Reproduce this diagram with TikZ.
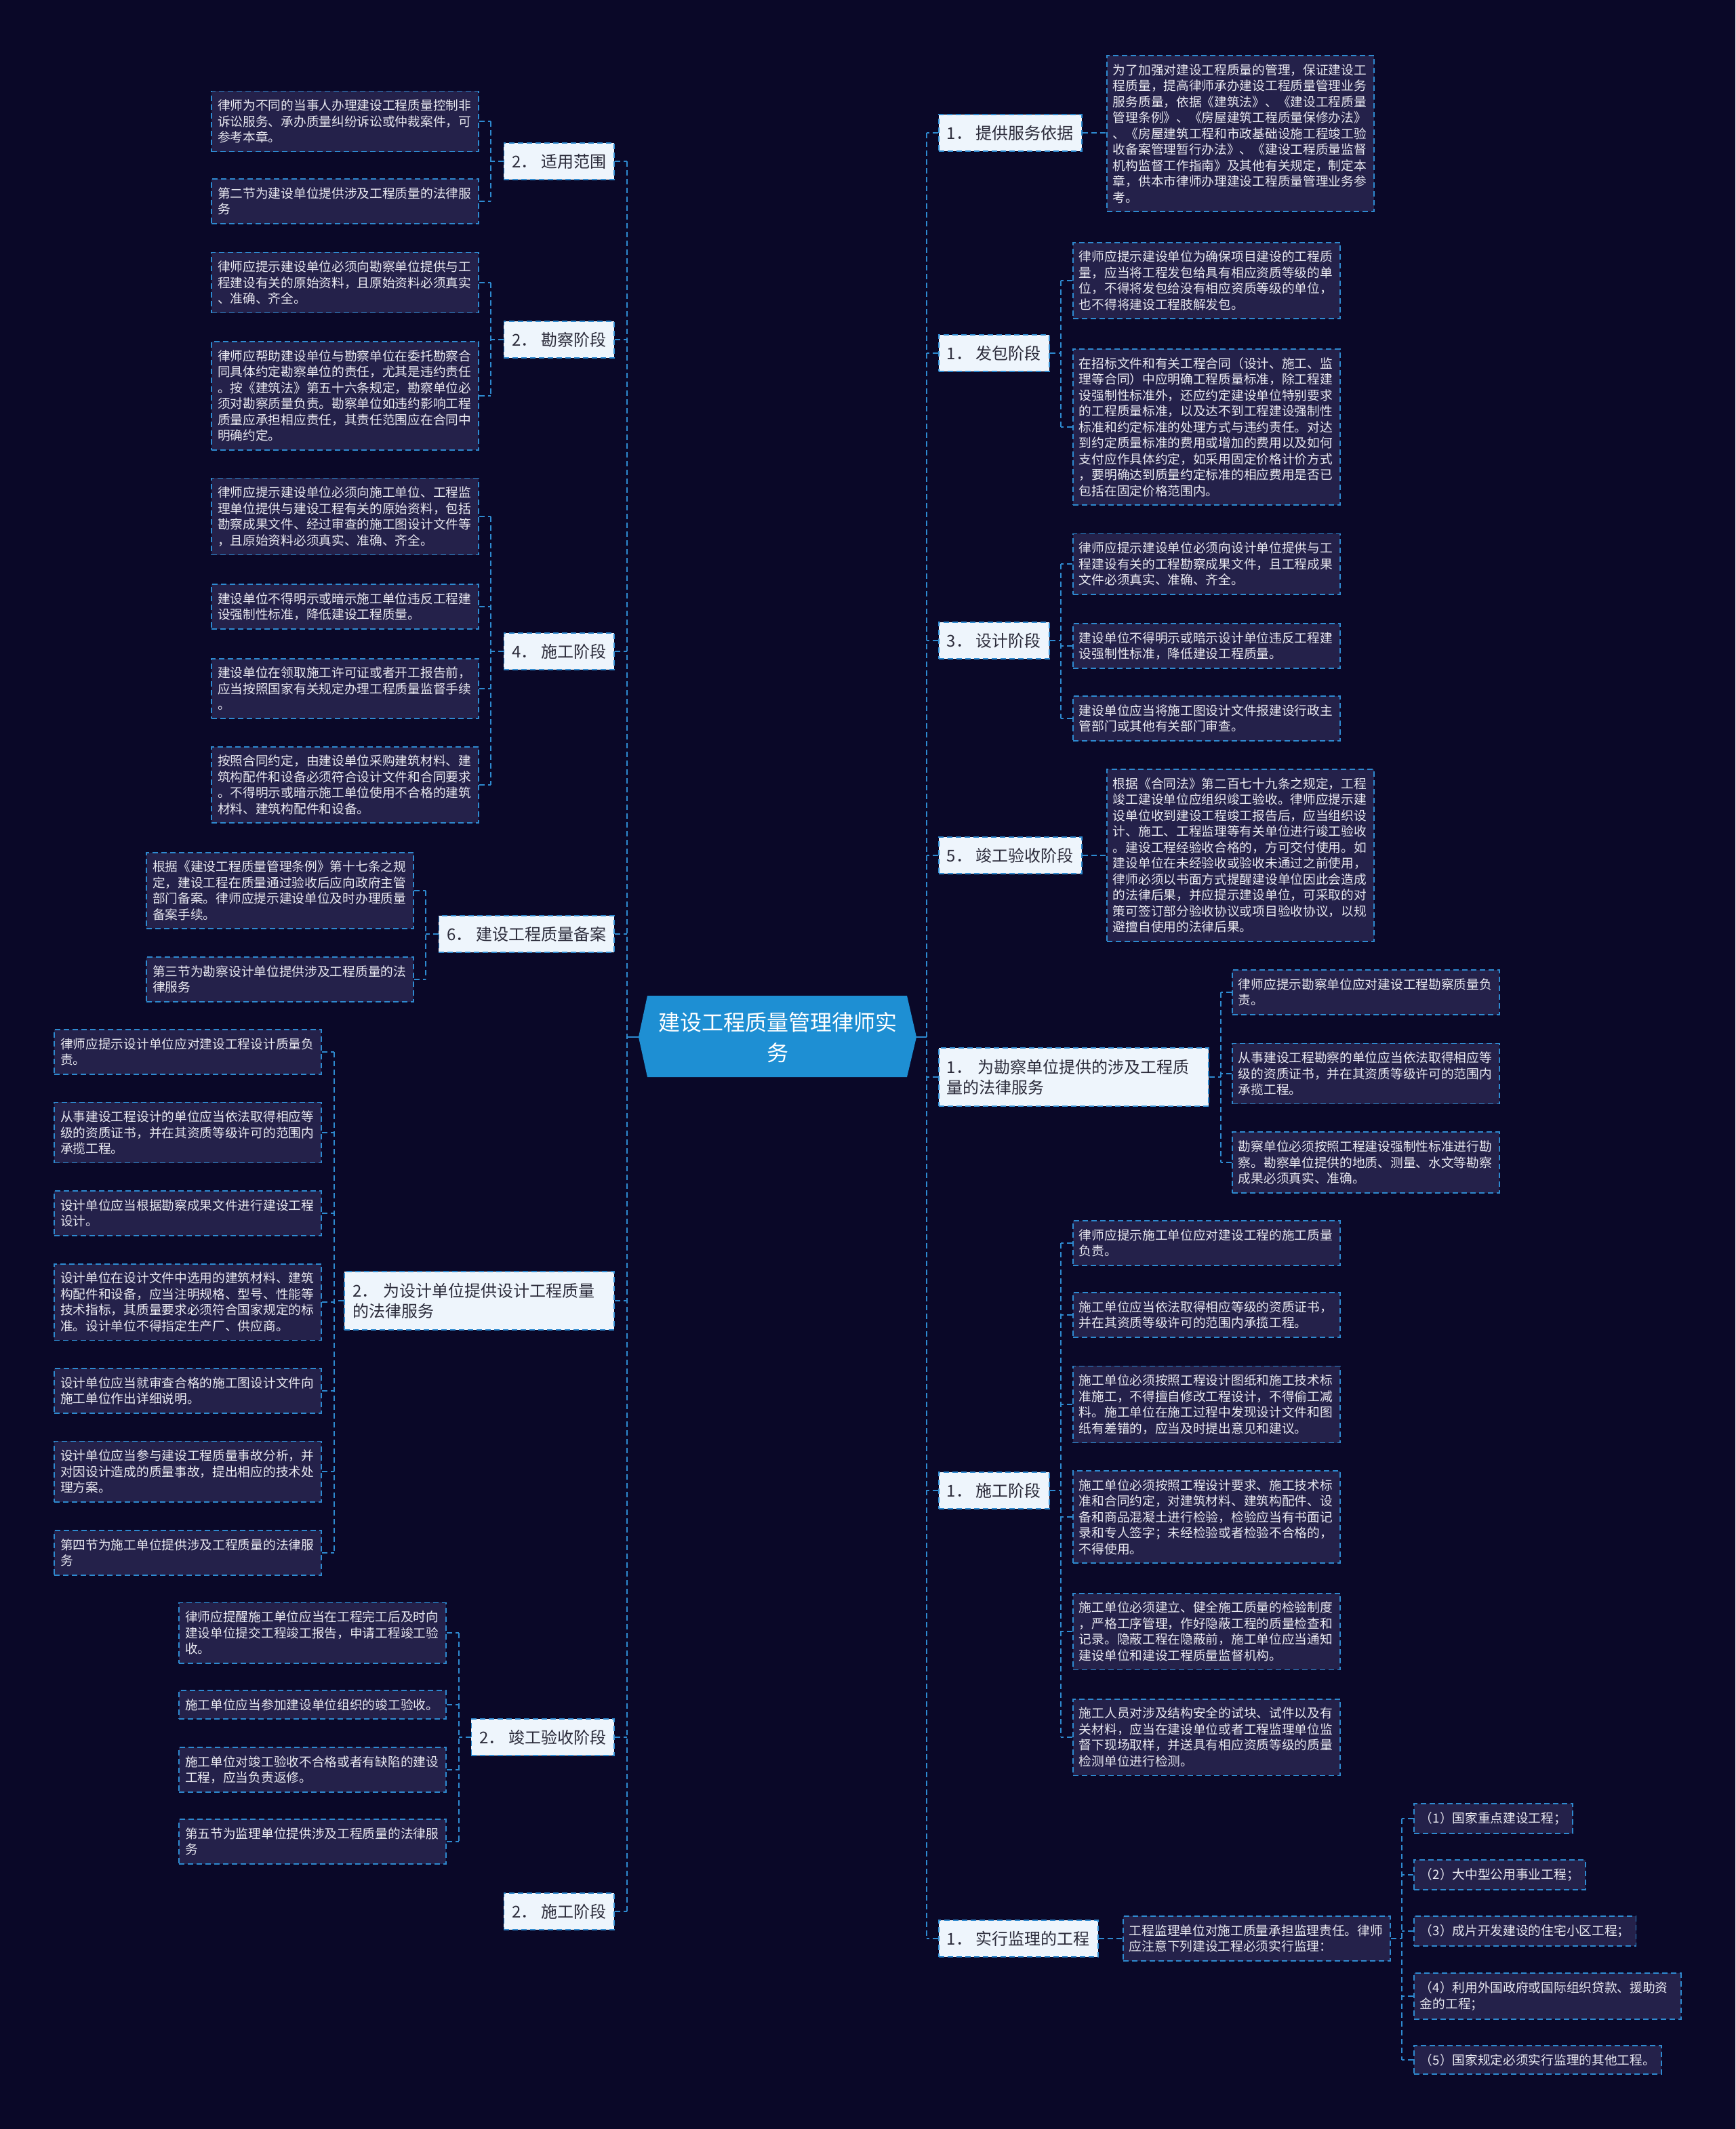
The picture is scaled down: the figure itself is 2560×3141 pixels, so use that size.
\documentclass[tikz,border=0pt]{standalone}
\usepackage{fontspec}
\setmainfont{Noto Sans CJK SC}
\definecolor{bgc}{HTML}{0A0828}
\definecolor{bord}{HTML}{2E8AD0}
\definecolor{leaffill}{HTML}{24214A}
\definecolor{leaftext}{HTML}{E8E8F0}
\definecolor{lonefill}{HTML}{EEF5FC}
\definecolor{lonetext}{HTML}{2B2B3A}
\definecolor{rootfill}{HTML}{1E8FD3}
\begin{document}
\begin{tikzpicture}[x=0.5pt,y=-0.5pt,
  boxbase/.style={draw=bord, line width=0.9pt, dash pattern=on 4pt off 2.5pt},
  leafbase/.style={boxbase, fill=leaffill, text=leaftext, font=\fontsize{9.35pt}{11.75pt}\selectfont, inner xsep=4.5pt, inner ysep=6.2pt},
  leaf/.style={leafbase, text width=188pt, align=left},
  item/.style={leafbase},
  lone/.style={boxbase, fill=lonefill, text=lonetext, font=\fontsize{12pt}{15pt}\selectfont, inner xsep=6pt, inner ysep=3pt, minimum height=27pt},
  ltwo/.style={lone, text width=187pt, align=left, minimum height=43pt},
  conn/.style={draw=bord, line width=1pt, dash pattern=on 4pt off 2.5pt},
]
\fill[bgc] (0,0) rectangle (2560,3141);
\useasboundingbox (0,0) rectangle (2560,3141);

% ---------- root ----------
\fill[rootfill] (942,1530) -- (955,1469) -- (1338,1469) -- (1352,1530) -- (1338,1589) -- (955,1589) -- cycle;
\node[text=white, font=\fontsize{16pt}{22.5pt}\selectfont, align=center] (root) at (1147,1531) {建设工程质量管理律师实\\务};
\coordinate (rootL) at (942,1530);
\coordinate (rootR) at (1352,1530);

% trunks and sub-trunks
\coordinate (tl) at (925,0);
\coordinate (tr) at (1367,0);
\coordinate (sa) at (724,0);
\coordinate (sd) at (628,0);
\coordinate (se) at (493,0);
\coordinate (sf) at (677,0);
\coordinate (sb) at (1565,0);
\coordinate (sre) at (1801,0);
\coordinate (sg) at (2068,0);

% ---------- left level 1 ----------
\node[lone, anchor=east] (la) at (907,238) {2．\ 适用范围};
\node[lone, anchor=east] (lb) at (907,501) {2．\ 勘察阶段};
\node[lone, anchor=east] (lc) at (907,961) {4．\ 施工阶段};
\node[lone, anchor=east] (ld) at (907,1378) {6．\ 建设工程质量备案};
\node[ltwo, anchor=east] (le) at (907,1919) {2．\ 为设计单位提供设计工程质量\\的法律服务};
\node[lone, anchor=east] (lf) at (907,2563) {2．\ 竣工验收阶段};
\node[lone, anchor=east] (lg) at (907,2820) {2．\ 施工阶段};

% ---------- left leaves ----------
\node[leaf, anchor=east] (la1) at (707,179) {律师为不同的当事人办理建设工程质量控制非\\诉讼服务、承办质量纠纷诉讼或仲裁案件，可\\参考本章。};
\node[leaf, anchor=east] (la2) at (707,297) {第二节为建设单位提供涉及工程质量的法律服\\务};

\node[leaf, anchor=east] (lb1) at (707,417) {律师应提示建设单位必须向勘察单位提供与工\\程建设有关的原始资料，且原始资料必须真实\\、准确、齐全。};
\node[leaf, anchor=east] (lb2) at (707,584) {律师应帮助建设单位与勘察单位在委托勘察合\\同具体约定勘察单位的责任，尤其是违约责任\\。按《建筑法》第五十六条规定，勘察单位必\\须对勘察质量负责。勘察单位如违约影响工程\\质量应承担相应责任，其责任范围应在合同中\\明确约定。};

\node[leaf, anchor=east] (lc1) at (707,762) {律师应提示建设单位必须向施工单位、工程监\\理单位提供与建设工程有关的原始资料，包括\\勘察成果文件、经过审查的施工图设计文件等\\，且原始资料必须真实、准确、齐全。};
\node[leaf, anchor=east] (lc2) at (707,895) {建设单位不得明示或暗示施工单位违反工程建\\设强制性标准，降低建设工程质量。};
\node[leaf, anchor=east] (lc3) at (707,1016) {建设单位在领取施工许可证或者开工报告前，\\应当按照国家有关规定办理工程质量监督手续\\。};
\node[leaf, anchor=east] (lc4) at (707,1158) {按照合同约定，由建设单位采购建筑材料、建\\筑构配件和设备必须符合设计文件和合同要求\\。不得明示或暗示施工单位使用不合格的建筑\\材料、建筑构配件和设备。};

\node[leaf, anchor=east] (ld1) at (611,1314) {根据《建设工程质量管理条例》第十七条之规\\定，建设工程在质量通过验收后应向政府主管\\部门备案。律师应提示建设单位及时办理质量\\备案手续。};
\node[leaf, anchor=east] (ld2) at (611,1445) {第三节为勘察设计单位提供涉及工程质量的法\\律服务};

\node[leaf, anchor=east] (le1) at (475,1552) {律师应提示设计单位应对建设工程设计质量负\\责。};
\node[leaf, anchor=east] (le2) at (475,1671) {从事建设工程设计的单位应当依法取得相应等\\级的资质证书，并在其资质等级许可的范围内\\承揽工程。};
\node[leaf, anchor=east] (le3) at (475,1790) {设计单位应当根据勘察成果文件进行建设工程\\设计。};
\node[leaf, anchor=east] (le4) at (475,1921) {设计单位在设计文件中选用的建筑材料、建筑\\构配件和设备，应当注明规格、型号、性能等\\技术指标，其质量要求必须符合国家规定的标\\准。设计单位不得指定生产厂、供应商。};
\node[leaf, anchor=east] (le5) at (475,2052) {设计单位应当就审查合格的施工图设计文件向\\施工单位作出详细说明。};
\node[leaf, anchor=east] (le6) at (475,2171) {设计单位应当参与建设工程质量事故分析，并\\对因设计造成的质量事故，提出相应的技术处\\理方案。};
\node[leaf, anchor=east] (le7) at (475,2291) {第四节为施工单位提供涉及工程质量的法律服\\务};

\node[leaf, anchor=east] (lf1) at (659,2409) {律师应提醒施工单位应当在工程完工后及时向\\建设单位提交工程竣工报告，申请工程竣工验\\收。};
\node[leaf, anchor=east] (lf2) at (659,2515) {施工单位应当参加建设单位组织的竣工验收。};
\node[leaf, anchor=east] (lf3) at (659,2611) {施工单位对竣工验收不合格或者有缺陷的建设\\工程，应当负责返修。};
\node[leaf, anchor=east] (lf4) at (659,2717) {第五节为监理单位提供涉及工程质量的法律服\\务};

% ---------- right level 1 ----------
\node[lone, anchor=west] (ra) at (1384,196) {1．\ 提供服务依据};
\node[lone, anchor=west] (rb) at (1384,521) {1．\ 发包阶段};
\node[lone, anchor=west] (rc) at (1384,945) {3．\ 设计阶段};
\node[lone, anchor=west] (rd) at (1384,1262) {5．\ 竣工验收阶段};
\node[ltwo, anchor=west] (re) at (1384,1589) {1．\ 为勘察单位提供的涉及工程质\\量的法律服务};
\node[lone, anchor=west] (rf) at (1384,2199) {1．\ 施工阶段};
\node[lone, anchor=west] (rg) at (1384,2860) {1．\ 实行监理的工程};

% ---------- right leaves ----------
\node[leaf, anchor=west] (ra1) at (1632,197) {为了加强对建设工程质量的管理，保证建设工\\程质量，提高律师承办建设工程质量管理业务\\服务质量，依据《建筑法》、《建设工程质量\\管理条例》、《房屋建筑工程质量保修办法》\\、《房屋建筑工程和市政基础设施工程竣工验\\收备案管理暂行办法》、《建设工程质量监督\\机构监督工作指南》及其他有关规定，制定本\\章，供本市律师办理建设工程质量管理业务参\\考。};

\node[leaf, anchor=west] (rb1) at (1582,414) {律师应提示建设单位为确保项目建设的工程质\\量，应当将工程发包给具有相应资质等级的单\\位，不得将发包给没有相应资质等级的单位，\\也不得将建设工程肢解发包。};
\node[leaf, anchor=west] (rb2) at (1582,630) {在招标文件和有关工程合同（设计、施工、监\\理等合同）中应明确工程质量标准，除工程建\\设强制性标准外，还应约定建设单位特别要求\\的工程质量标准，以及达不到工程建设强制性\\标准和约定标准的处理方式与违约责任。对达\\到约定质量标准的费用或增加的费用以及如何\\支付应作具体约定，如采用固定价格计价方式\\，要明确达到质量约定标准的相应费用是否已\\包括在固定价格范围内。};

\node[leaf, anchor=west] (rc1) at (1582,832) {律师应提示建设单位必须向设计单位提供与工\\程建设有关的工程勘察成果文件，且工程成果\\文件必须真实、准确、齐全。};
\node[leaf, anchor=west] (rc2) at (1582,953) {建设单位不得明示或暗示设计单位违反工程建\\设强制性标准，降低建设工程质量。};
\node[leaf, anchor=west] (rc3) at (1582,1060) {建设单位应当将施工图设计文件报建设行政主\\管部门或其他有关部门审查。};

\node[leaf, anchor=west] (rd1) at (1632,1262) {根据《合同法》第二百七十九条之规定，工程\\竣工建设单位应组织竣工验收。律师应提示建\\设单位收到建设工程竣工报告后，应当组织设\\计、施工、工程监理等有关单位进行竣工验收\\。建设工程经验收合格的，方可交付使用。如\\建设单位在未经验收或验收未通过之前使用，\\律师必须以书面方式提醒建设单位因此会造成\\的法律后果，并应提示建设单位，可采取的对\\策可签订部分验收协议或项目验收协议，以规\\避擅自使用的法律后果。};

\node[leaf, anchor=west] (re1) at (1817,1464) {律师应提示勘察单位应对建设工程勘察质量负\\责。};
\node[leaf, anchor=west] (re2) at (1817,1584) {从事建设工程勘察的单位应当依法取得相应等\\级的资质证书，并在其资质等级许可的范围内\\承揽工程。};
\node[leaf, anchor=west] (re3) at (1817,1715) {勘察单位必须按照工程建设强制性标准进行勘\\察。勘察单位提供的地质、测量、水文等勘察\\成果必须真实、准确。};

\node[leaf, anchor=west] (rf1) at (1582,1834) {律师应提示施工单位应对建设工程的施工质量\\负责。};
\node[leaf, anchor=west] (rf2) at (1582,1940) {施工单位应当依法取得相应等级的资质证书，\\并在其资质等级许可的范围内承揽工程。};
\node[leaf, anchor=west] (rf3) at (1582,2072) {施工单位必须按照工程设计图纸和施工技术标\\准施工，不得擅自修改工程设计，不得偷工减\\料。施工单位在施工过程中发现设计文件和图\\纸有差错的，应当及时提出意见和建议。};
\node[leaf, anchor=west] (rf4) at (1582,2238) {施工单位必须按照工程设计要求、施工技术标\\准和合同约定，对建筑材料、建筑构配件、设\\备和商品混凝土进行检验，检验应当有书面记\\录和专人签字；未经检验或者检验不合格的，\\不得使用。};
\node[leaf, anchor=west] (rf5) at (1582,2407) {施工单位必须建立、健全施工质量的检验制度\\，严格工序管理，作好隐蔽工程的质量检查和\\记录。隐蔽工程在隐蔽前，施工单位应当通知\\建设单位和建设工程质量监督机构。};
\node[leaf, anchor=west] (rf6) at (1582,2563) {施工人员对涉及结构安全的试块、试件以及有\\关材料，应当在建设单位或者工程监理单位监\\督下现场取样，并送具有相应资质等级的质量\\检测单位进行检测。};

\node[leaf, anchor=west] (rg1) at (1656,2860) {工程监理单位对施工质量承担监理责任。律师\\应注意下列建设工程必须实行监理：};
\node[item, anchor=west] (rgi1) at (2085,2683) {（1）国家重点建设工程；};
\node[item, anchor=west] (rgi2) at (2085,2766) {（2）大中型公用事业工程；};
\node[item, anchor=west] (rgi3) at (2085,2849) {（3）成片开发建设的住宅小区工程；};
\node[leaf, anchor=west] (rgi4) at (2085,2945) {（4）利用外国政府或国际组织贷款、援助资\\金的工程；};
\node[item, anchor=west] (rgi5) at (2085,3039) {（5）国家规定必须实行监理的其他工程。};

% ---------- connectors ----------
\draw[draw=bord, line width=1.2pt] (rootL) -- (rootL -| tl);
\draw[draw=bord, line width=1.2pt] (rootR) -- (rootR -| tr);
\draw[conn] (la.east -| tl) -- (lg.east -| tl);
\draw[conn] (ra.west -| tr) -- (rg.west -| tr);
\foreach \n in {la,lb,lc,ld,le,lf,lg} \draw[conn] (\n.east) -- (\n.east -| tl);
\foreach \n in {ra,rb,rc,rd,re,rf,rg} \draw[conn] (\n.west) -- (\n.west -| tr);

% left groups
\draw[conn] (la.west) -- (la.west -| sa);
\draw[conn] (la1.east -| sa) -- (la2.east -| sa);
\draw[conn] (lb.west) -- (lb.west -| sa);
\draw[conn] (lb1.east -| sa) -- (lb2.east -| sa);
\draw[conn] (lc.west) -- (lc.west -| sa);
\draw[conn] (lc1.east -| sa) -- (lc4.east -| sa);
\foreach \n in {la1,la2,lb1,lb2,lc1,lc2,lc3,lc4} \draw[conn] (\n.east) -- (\n.east -| sa);

\draw[conn] (ld.west) -- (ld.west -| sd);
\draw[conn] (ld1.east -| sd) -- (ld2.east -| sd);
\foreach \n in {ld1,ld2} \draw[conn] (\n.east) -- (\n.east -| sd);

\draw[conn] (le.west) -- (le.west -| se);
\draw[conn] (le1.east -| se) -- (le7.east -| se);
\foreach \n in {le1,le2,le3,le4,le5,le6,le7} \draw[conn] (\n.east) -- (\n.east -| se);

\draw[conn] (lf.west) -- (lf.west -| sf);
\draw[conn] (lf1.east -| sf) -- (lf4.east -| sf);
\foreach \n in {lf1,lf2,lf3,lf4} \draw[conn] (\n.east) -- (\n.east -| sf);

% right groups
\draw[conn] (ra.east) -- (ra.east -| ra1.west);
\draw[conn] (rd.east) -- (rd.east -| rd1.west);

\draw[conn] (rb.east) -- (rb.east -| sb);
\draw[conn] (rb1.west -| sb) -- (rb2.west -| sb);
\draw[conn] (rc.east) -- (rc.east -| sb);
\draw[conn] (rc1.west -| sb) -- (rc3.west -| sb);
\draw[conn] (rf.east) -- (rf.east -| sb);
\draw[conn] (rf1.west -| sb) -- (rf6.west -| sb);
\foreach \n in {rb1,rb2,rc1,rc2,rc3,rf1,rf2,rf3,rf4,rf5,rf6} \draw[conn] (\n.west) -- (\n.west -| sb);

\draw[conn] (re.east) -- (re.east -| sre);
\draw[conn] (re1.west -| sre) -- (re3.west -| sre);
\foreach \n in {re1,re2,re3} \draw[conn] (\n.west) -- (\n.west -| sre);

\draw[conn] (rg.east) -- (rg.east -| rg1.west);
\draw[conn] (rg1.east) -- (rg1.east -| sg);
\draw[conn] (rgi1.west -| sg) -- (rgi5.west -| sg);
\foreach \n in {rgi1,rgi2,rgi3,rgi4,rgi5} \draw[conn] (\n.west) -- (\n.west -| sg);
\end{tikzpicture}
\end{document}
